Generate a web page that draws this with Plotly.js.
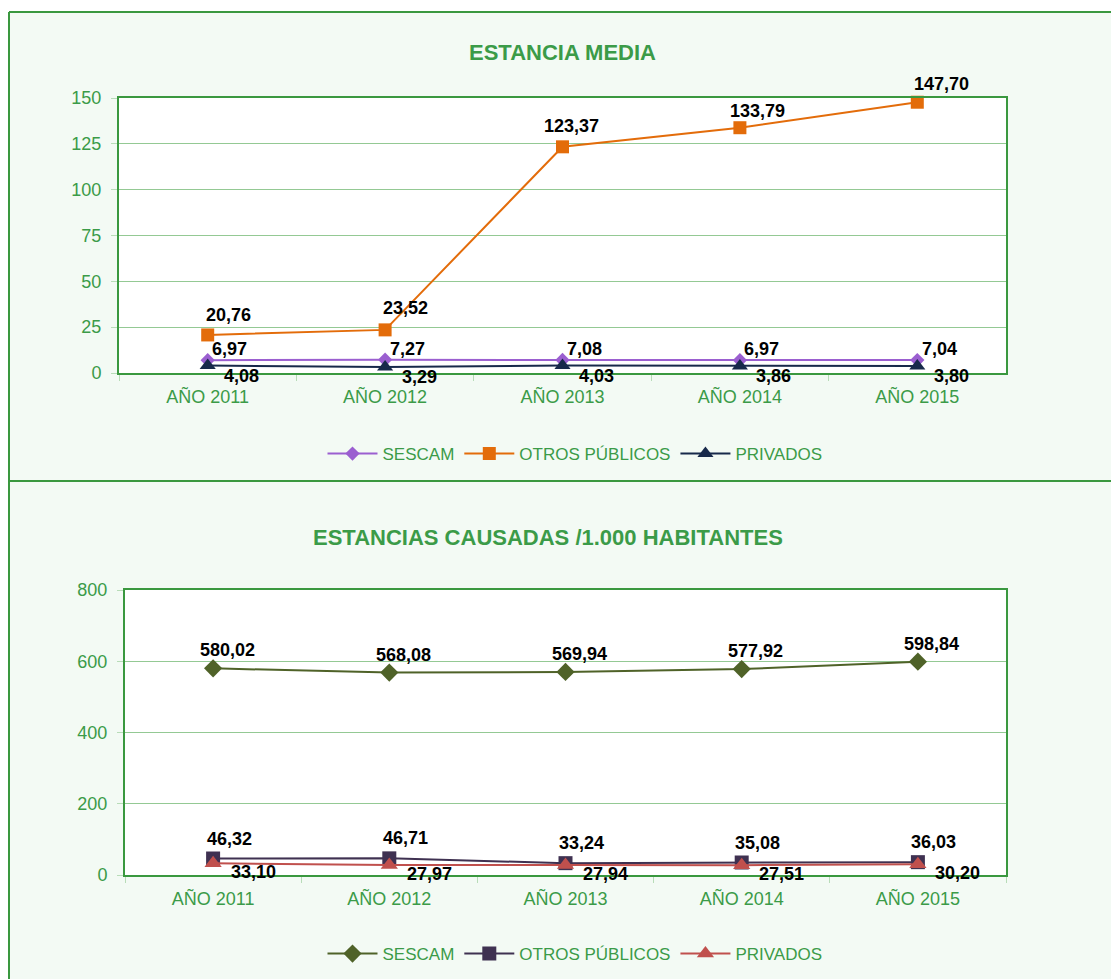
<!DOCTYPE html>
<html>
<head>
<meta charset="utf-8">
<script src="https://cdn.plot.ly/plotly-3.0.1.min.js"></script>
<style>html,body{margin:0;padding:0;background:#fff;}#chart{width:1111px;height:979px;}</style>
</head>
<body>
<div id="chart"></div>
<script>
// ---- Data ----
const years = ["AÑO 2011", "AÑO 2012", "AÑO 2013", "AÑO 2014", "AÑO 2015"];
const seriesNames = ["SESCAM", "OTROS PÚBLICOS", "PRIVADOS"];

// Estancia media
const emSescam = [6.97, 7.27, 7.08, 6.97, 7.04];
const emOtros = [20.76, 23.52, 123.37, 133.79, 147.70];
const emPrivados = [4.08, 3.29, 4.03, 3.86, 3.80];

// Estancias causadas / 1.000 habitantes
const ecSescam = [580.02, 568.08, 569.94, 577.92, 598.84];
const ecOtros = [46.32, 46.71, 33.24, 35.08, 36.03];
const ecPrivados = [33.10, 27.97, 27.94, 27.51, 30.20];

const title1 = "ESTANCIA MEDIA";
const title2 = "ESTANCIAS CAUSADAS /1.000 HABITANTES";

// ---- Styling ----
const GREEN = "#3b9b48";
const BORDER = "#3a983f";
const GRID = "#94c994";
const BG = "#f3faf4";
const FONT = "Liberation Sans, Arial, sans-serif";

const fmt = v => v.toFixed(2).replace(".", ",");
const labelFont = {family: FONT, size: 18, color: "#000"};

function tr(y, name, color, symbol, size, xa, ya, legend) {
  return {
    type: "scatter", mode: "lines+markers",
    x: years, y: y, name: name,
    cliponaxis: false,
    line: {color: color, width: 2},
    marker: {color: color, symbol: symbol, size: size},
    xaxis: xa, yaxis: ya, legend: legend
  };
}

const data = [
  tr(emSescam, seriesNames[0], "#9b5fd0", "diamond", 11, "x", "y", "legend"),
  tr(emOtros, seriesNames[1], "#e36c0a", "square", 13, "x", "y", "legend"),
  tr(emPrivados, seriesNames[2], "#17294a", "triangle-up", 14, "x", "y", "legend"),
  tr(ecSescam, seriesNames[0], "#4f6228", "diamond", 14, "x2", "y2", "legend2"),
  tr(ecOtros, seriesNames[1], "#3f3151", "square", 14, "x2", "y2", "legend2"),
  tr(ecPrivados, seriesNames[2], "#c0504d", "triangle-up", 15, "x2", "y2", "legend2")
];

// data labels (offsets are label styling, in pixels)
function labels(vals, xr, yr, dx, dy) {
  return vals.map((v, i) => ({
    xref: xr, yref: yr, x: years[i], y: v, text: "<b>" + fmt(v) + "</b>",
    showarrow: false, xanchor: "center", yanchor: "middle",
    xshift: Array.isArray(dx) ? dx[i] : dx, yshift: Array.isArray(dy) ? dy[i] : dy,
    font: labelFont
  }));
}

const W = 1111, H = 979;
const px = v => v / W;
const py = v => 1 - v / H;

const xaxisBase = {
  type: "category", range: [-0.5, 4.5],
  showline: true, mirror: true, linecolor: BORDER, linewidth: 2,
  ticks: "outside", tickson: "boundaries", ticklen: 6, tickcolor: "#b8dcb8",
  tickfont: {family: FONT, size: 18, color: GREEN},
  ticklabelstandoff: 6,
  showgrid: false, zeroline: false, fixedrange: true
};
const yaxisBase = {
  showline: true, mirror: true, linecolor: BORDER, linewidth: 2,
  ticks: "outside", ticklen: 6, tickcolor: "#b8dcb8",
  tickfont: {family: FONT, size: 18, color: GREEN},
  showgrid: true, gridcolor: GRID, gridwidth: 1, zeroline: false,
  ticklabelstandoff: 6, fixedrange: true
};

const legendBase = {orientation: "h", xanchor: "center", yanchor: "middle",
  font: {family: FONT, size: 17, color: GREEN}, bgcolor: "rgba(0,0,0,0)", itemwidth: 50, tracegroupgap: 0};

const annotations = [
  {xref: "paper", yref: "paper", x: px(562), y: py(53), text: "<b>" + title1 + "</b>", showarrow: false,
    font: {family: FONT, size: 22, color: GREEN}, xanchor: "center", yanchor: "middle"},
  {xref: "paper", yref: "paper", x: px(548), y: py(537), text: "<b>" + title2 + "</b>", showarrow: false,
    font: {family: FONT, size: 22, color: GREEN}, xanchor: "center", yanchor: "middle"}
].concat(
  labels(emSescam, "x", "y", 22, 11),
  labels(emOtros, "x", "y", [21, 20, 9, 18, 24], [20, 22, 21, 17, 18]),
  labels(emPrivados, "x", "y", 34, -10),
  labels(ecSescam, "x2", "y2", 14, 18),
  labels(ecOtros, "x2", "y2", 16, 20),
  labels(ecPrivados, "x2", "y2", 40, -9)
);

const layout = {
  width: W, height: H,
  margin: {l: 0, r: 0, t: 0, b: 0},
  paper_bgcolor: BG, plot_bgcolor: "#ffffff",
  showlegend: true,
  font: {family: FONT},
  xaxis: Object.assign({}, xaxisBase, {domain: [px(119), px(1006)], anchor: "y"}),
  yaxis: Object.assign({}, yaxisBase, {domain: [py(373), py(98)], anchor: "x", range: [0, 150], tickvals: [0, 25, 50, 75, 100, 125, 150]}),
  xaxis2: Object.assign({}, xaxisBase, {domain: [px(125), px(1006)], anchor: "y2"}),
  yaxis2: Object.assign({}, yaxisBase, {domain: [py(875), py(590)], anchor: "x2", range: [0, 800], tickvals: [0, 200, 400, 600, 800]}),
  legend: Object.assign({}, legendBase, {x: px(575), y: py(454)}),
  legend2: Object.assign({}, legendBase, {x: px(575), y: py(954)}),
  annotations: annotations,
  shapes: [
    {type: "rect", xref: "paper", yref: "paper", x0: 0, x1: px(9), y0: 0, y1: 1, fillcolor: "#fff", line: {width: 0}, layer: "below"},
    {type: "rect", xref: "paper", yref: "paper", x0: 0, x1: 1, y0: py(12), y1: 1, fillcolor: "#fff", line: {width: 0}, layer: "below"},
    {type: "line", xref: "paper", yref: "paper", x0: px(9), x1: 1.01, y0: py(12), y1: py(12), line: {color: BORDER, width: 2}},
    {type: "line", xref: "paper", yref: "paper", x0: px(9), x1: px(9), y0: py(12), y1: -0.01, line: {color: BORDER, width: 2}},
    {type: "line", xref: "paper", yref: "paper", x0: px(9), x1: 1.01, y0: py(481), y1: py(481), line: {color: BORDER, width: 2}}
  ]
};

Plotly.newPlot("chart", data, layout, {displayModeBar: false, staticPlot: true});
</script>
</body>
</html>
